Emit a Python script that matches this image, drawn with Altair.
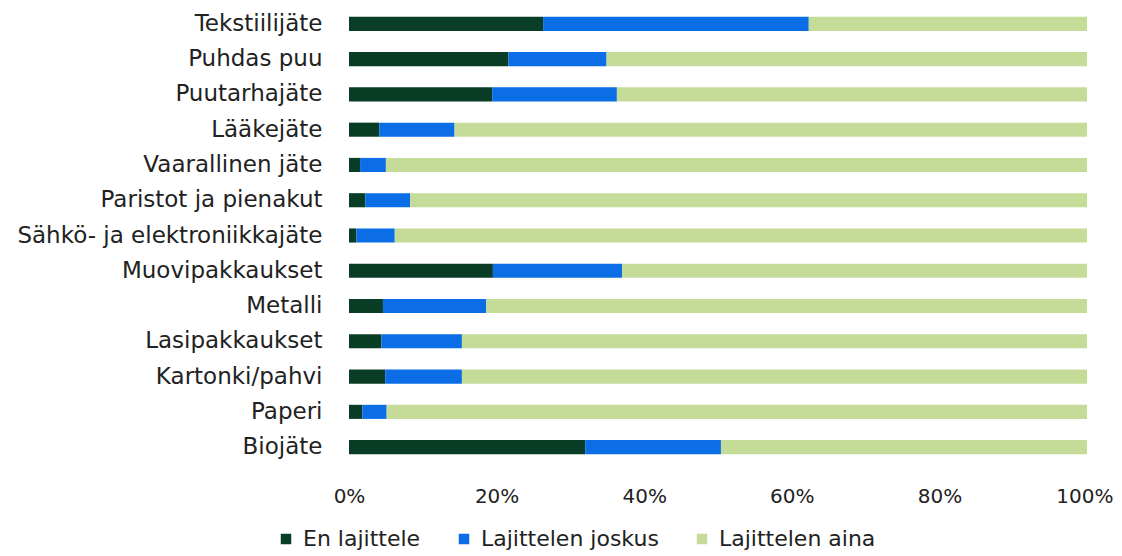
import altair as alt
import pandas as pd

categories = ["Tekstiilijäte", "Puhdas puu", "Puutarhajäte", "Lääkejäte",
              "Vaarallinen jäte", "Paristot ja pienakut", "Sähkö- ja elektroniikkajäte",
              "Muovipakkaukset", "Metalli", "Lasipakkaukset", "Kartonki/pahvi",
              "Paperi", "Biojäte"]
series = ["En lajittele", "Lajittelen joskus", "Lajittelen aina"]
en_lajittele = [26.3, 21.6, 19.4, 4.1, 1.5, 2.2, 1.0, 19.5, 4.6, 4.4, 4.9, 1.8, 32.0]
joskus =       [36.0, 13.3, 16.9, 10.2, 3.5, 6.1, 5.2, 17.5, 14.0, 10.9, 10.4, 3.3, 18.4]
aina = [round(100 - a - b, 1) for a, b in zip(en_lajittele, joskus)]
colors = ["#0a3d25", "#0b6ee6", "#c4dc98"]

rows = []
for i, c in enumerate(categories):
    for j, (s, vals) in enumerate(zip(series, [en_lajittele, joskus, aina])):
        rows.append({"category": c, "series": s, "value": vals[i], "order": j})
df = pd.DataFrame(rows)

FONT = "DejaVu Sans"

chart = alt.Chart(df).mark_bar().encode(
    y=alt.Y("category:N", sort=categories, title=None,
            scale=alt.Scale(paddingInner=0.6, paddingOuter=0.25),
            axis=alt.Axis(ticks=False, domain=False, labelFontSize=23,
                          labelFont=FONT, labelColor="#222222", labelPadding=27,
                          labelLimit=400)),
    x=alt.X("value:Q", stack="normalize", title=None,
            scale=alt.Scale(domain=[0, 1], nice=False),
            axis=alt.Axis(format="%", values=[0, 0.2, 0.4, 0.6, 0.8, 1.0],
                          ticks=False, domain=False, grid=False, labelFlush=False,
                          labelAlign={"expr": "datum.value == 1 ? 'right' : 'center'"},
                          labelOffset={"expr": "datum.value == 1 ? 26 : 0"},
                          labelFontSize=20, labelFont=FONT, labelColor="#222222",
                          labelPadding=23)),
    color=alt.Color("series:N", sort=series,
                    scale=alt.Scale(domain=series, range=colors),
                    legend=alt.Legend(title=None, orient="none", direction="horizontal",
                                      legendX=-74, legendY=520,
                                      symbolType="square", symbolSize=110,
                                      symbolStrokeWidth=0, labelLimit=400,
                                      labelFontSize=22, labelFont=FONT,
                                      labelColor="#222222", columnPadding=32,
                                      labelOffset=6)),
    order=alt.Order("order:Q"),
).properties(
    width=738, height=455,
    padding={"left": 341, "top": 0, "right": 27, "bottom": 92},
    autosize=alt.AutoSizeParams(type="none"),
).configure_view(stroke=None)

chart.save("out.html", embed_options={"renderer": "svg", "actions": False})
